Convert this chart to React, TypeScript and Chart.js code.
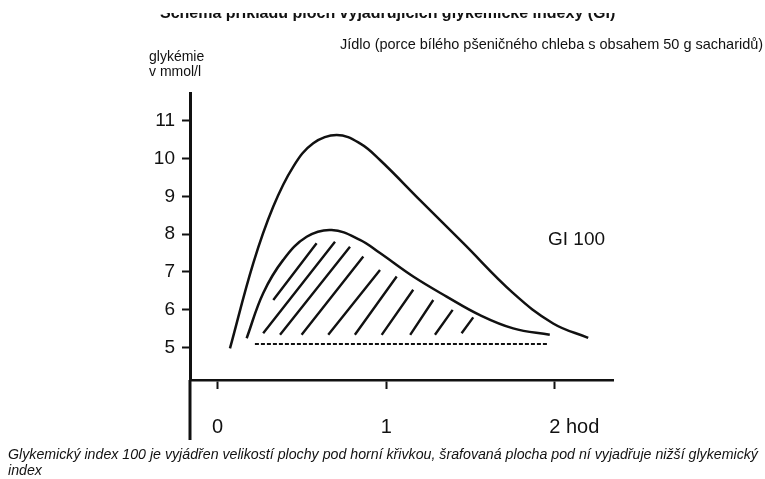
import React, { useEffect, useRef } from "react";
import { Chart, registerables } from "chart.js";

Chart.register(...registerables);

// ---- data (hours / mmol/l) ----
const upperX = [0.073, 0.211, 0.33, 0.448, 0.567, 0.706, 0.844, 0.963, 1.2, 1.457, 1.753, 1.99, 2.198];
const upperY = [4.98, 7.23, 8.73, 9.78, 10.4, 10.62, 10.4, 9.96, 8.9, 7.76, 6.44, 5.64, 5.26];

const lowerX = [0.172, 0.27, 0.389, 0.528, 0.676, 0.844, 0.963, 1.16, 1.358, 1.556, 1.753, 1.97];
const lowerY = [5.25, 6.44, 7.32, 7.93, 8.11, 7.85, 7.5, 6.88, 6.35, 5.86, 5.51, 5.34];

const baseX = [0.221, 1.96];
const baseY = [5.1, 5.1];

const hatchX1 = [0.33, 0.27, 0.37, 0.498, 0.656, 0.814, 0.973, 1.142, 1.289, 1.447];
const hatchY1 = [6.26, 5.38, 5.34, 5.34, 5.34, 5.34, 5.34, 5.34, 5.34, 5.38];
const hatchX2 = [0.587, 0.696, 0.785, 0.864, 0.963, 1.062, 1.16, 1.279, 1.394, 1.516];
const hatchY2 = [7.76, 7.8, 7.67, 7.41, 7.05, 6.88, 6.53, 6.26, 6.0, 5.8];

const yTickValues = [5, 6, 7, 8, 9, 10, 11];
const xTickValues = [0, 1, 2];
const xTickNumbers = ["0", "1", "2"];
const xTickUnits = ["", "", " hod"];

const titleText = "Schéma příkladu ploch vyjadřujících glykemické indexy (GI)";
const mealText = "Jídlo (porce bílého pšeničného chleba s obsahem 50 g sacharidů)";
const yLabelLines = ["glykémie", "v mmol/l"];
const giLabel = "GI 100";
const captionText =
  "Glykemický index 100 je vyjádřen velikostí plochy pod horní křivkou, šrafovaná plocha pod ní vyjadřuje nižší glykemický index";

const FONT = "'Liberation Sans', Arial, Helvetica, sans-serif";
const INK = "#111";

function zip(xs: number[], ys: number[]) {
  return xs.map((x, i) => ({ x, y: ys[i] }));
}

export default function App() {
  const ref = useRef<HTMLCanvasElement | null>(null);

  useEffect(() => {
    if (!ref.current) return;
    const hatchData: any[] = [];
    hatchX1.forEach((x, i) => {
      hatchData.push({ x, y: hatchY1[i] });
      hatchData.push({ x: hatchX2[i], y: hatchY2[i] });
      hatchData.push({ x: hatchX2[i] + 0.001, y: null });
    });

    const extras = {
      id: "extras",
      afterDraw(chart: any) {
        const { ctx, chartArea } = chart;
        const xs = chart.scales.x;
        ctx.save();
        ctx.strokeStyle = INK;
        ctx.lineWidth = 3;
        ctx.beginPath();
        ctx.moveTo(chartArea.left, chartArea.bottom);
        ctx.lineTo(chartArea.left, chartArea.bottom + 60);
        ctx.stroke();
        ctx.fillStyle = INK;
        ctx.font = `20px ${FONT}`;
        ctx.textBaseline = "middle";
        ctx.textAlign = "left";
        xTickValues.forEach((v, i) => {
          const px = xs.getPixelForValue(v);
          const w = ctx.measureText(xTickNumbers[i]).width;
          ctx.fillText(xTickNumbers[i] + xTickUnits[i], px - w / 2, chartArea.bottom + 47);
        });
        ctx.restore();
      },
    };

    const curve = {
      borderColor: INK,
      borderWidth: 2.5,
      pointRadius: 0,
      tension: 0.4,
      fill: false,
    };

    const chart = new Chart(ref.current, {
      type: "line",
      data: {
        datasets: [
          { ...curve, data: zip(upperX, upperY) },
          { ...curve, data: zip(lowerX, lowerY) },
          {
            data: zip(baseX, baseY),
            borderColor: INK,
            borderWidth: 2,
            borderDash: [4, 2],
            pointRadius: 0,
            tension: 0,
            fill: false,
          },
          {
            data: hatchData,
            borderColor: INK,
            borderWidth: 2.4,
            pointRadius: 0,
            tension: 0,
            spanGaps: false,
            fill: false,
          },
        ],
      },
      options: {
        animation: false,
        responsive: false,
        devicePixelRatio: 1,
        layout: { padding: { left: 0, top: 93, right: 152, bottom: 39 } },
        plugins: { legend: { display: false }, tooltip: { enabled: false }, title: { display: false } },
        scales: {
          x: {
            type: "linear",
            min: -0.164,
            max: 2.345,
            border: { display: true, color: INK, width: 2.5 },
            grid: { drawOnChartArea: false, drawTicks: true, tickLength: 9, tickWidth: 2, tickColor: INK },
            ticks: { display: false },
            afterBuildTicks: (s: any) => {
              s.ticks = xTickValues.map((v) => ({ value: v }));
            },
            afterFit: (s: any) => {
              s.height = 60;
            },
          },
          y: {
            type: "linear",
            min: 4.146,
            max: 11.73,
            border: { display: true, color: INK, width: 3 },
            grid: { drawOnChartArea: false, drawTicks: true, tickLength: 8, tickWidth: 2, tickColor: INK },
            ticks: { color: INK, font: { family: FONT, size: 19 }, padding: 7 },
            afterBuildTicks: (s: any) => {
              s.ticks = yTickValues.map((v) => ({ value: v }));
            },
            afterFit: (s: any) => {
              s.width = 190;
            },
          },
        },
      },
      plugins: [extras],
    } as any);
    return () => chart.destroy();
  }, []);

  return (
    <div
      style={{
        position: "absolute",
        left: 0,
        top: 0,
        width: 765,
        height: 479,
        overflow: "hidden",
        background: "#fff",
        fontFamily: FONT,
        color: INK,
      }}
    >
      <canvas ref={ref} width={765} height={479} style={{ position: "absolute", left: 0, top: 0 }} />
      <div style={{ position: "absolute", left: 160, top: 13, height: 9, overflow: "hidden", whiteSpace: "nowrap" }}>
        <div style={{ marginTop: -9, fontWeight: "bold", fontSize: 16, lineHeight: "18px" }}>{titleText}</div>
      </div>
      <div style={{ position: "absolute", left: 340, top: 36, fontSize: 14.5, lineHeight: "17px", whiteSpace: "nowrap" }}>
        {mealText}
      </div>
      <div style={{ position: "absolute", left: 149, top: 49, fontSize: 14, lineHeight: "15px", whiteSpace: "nowrap" }}>
        {yLabelLines.map((l) => (
          <div key={l}>{l}</div>
        ))}
      </div>
      <div style={{ position: "absolute", left: 548, top: 228, fontSize: 19, lineHeight: "22px", whiteSpace: "nowrap" }}>
        {giLabel}
      </div>
      <div
        style={{
          position: "absolute",
          left: 8,
          top: 446,
          width: 757,
          fontSize: 14.2,
          lineHeight: "16px",
          fontStyle: "italic",
        }}
      >
        {captionText}
      </div>
    </div>
  );
}
